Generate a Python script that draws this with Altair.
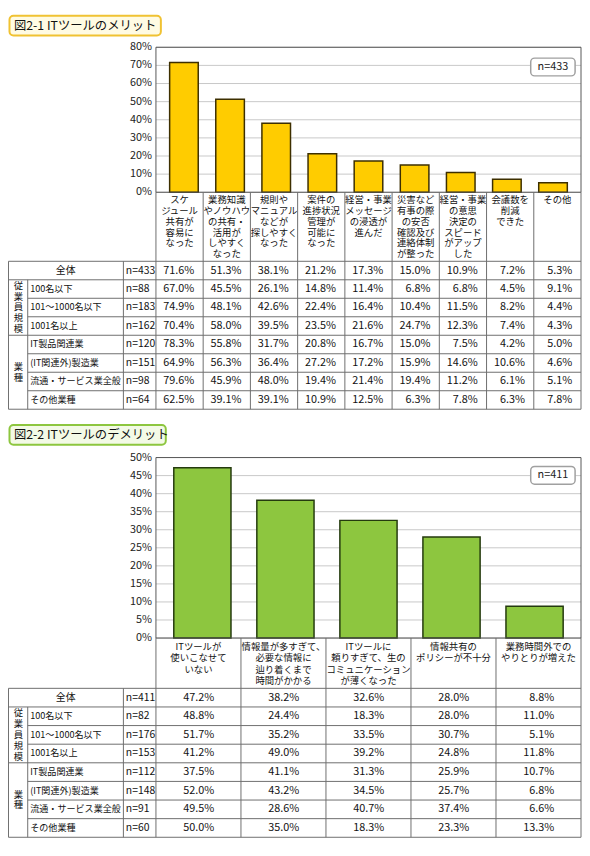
import altair as alt
import pandas as pd

FONT = "Noto Sans CJK JP"

# ---------------- data : figure 2-1 ----------------
title1 = "図2-1 ITツールのメリット"
cats1 = [
    "スケ\nジュール\n共有が\n容易に\nなった",
    "業務知識\nやノウハウ\nの共有・\n活用が\nしやすく\nなった",
    "規則や\nマニュアル\nなどが\n探しやすく\nなった",
    "案件の\n進捗状況\n管理が\n可能に\nなった",
    "経営・事業\nメッセージ\nの浸透が\n進んだ",
    "災害など\n有事の際\nの安否\n確認及び\n連絡体制\nが整った",
    "経営・事業\nの意思\n決定の\nスピード\nがアップ\nした",
    "会議数を\n削減\nできた",
    "その他",
]
total1 = [71.6, 51.3, 38.1, 21.2, 17.3, 15.0, 10.9, 7.2, 5.3]
ticks1 = [0, 10, 20, 30, 40, 50, 60, 70, 80]
n1 = [433, 88, 183, 162, 120, 151, 98, 64]
table1 = [
    [71.6, 51.3, 38.1, 21.2, 17.3, 15.0, 10.9, 7.2, 5.3],
    [67.0, 45.5, 26.1, 14.8, 11.4, 6.8, 6.8, 4.5, 9.1],
    [74.9, 48.1, 42.6, 22.4, 16.4, 10.4, 11.5, 8.2, 4.4],
    [70.4, 58.0, 39.5, 23.5, 21.6, 24.7, 12.3, 7.4, 4.3],
    [78.3, 55.8, 31.7, 20.8, 16.7, 15.0, 7.5, 4.2, 5.0],
    [64.9, 56.3, 36.4, 27.2, 17.2, 15.9, 14.6, 10.6, 4.6],
    [79.6, 45.9, 48.0, 19.4, 21.4, 19.4, 11.2, 6.1, 5.1],
    [62.5, 39.1, 39.1, 10.9, 12.5, 6.3, 7.8, 6.3, 7.8],
]

# ---------------- data : figure 2-2 ----------------
title2 = "図2-2 ITツールのデメリット"
cats2 = [
    "ITツールが\n使いこなせて\nいない",
    "情報量が多すぎて、\n必要な情報に\n辿り着くまで\n時間がかかる",
    "ITツールに\n頼りすぎて、生の\nコミュニケーション\nが薄くなった",
    "情報共有の\nポリシーが不十分",
    "業務時間外での\nやりとりが増えた",
]
total2 = [47.2, 38.2, 32.6, 28.0, 8.8]
ticks2 = [0, 5, 10, 15, 20, 25, 30, 35, 40, 45, 50]
n2 = [411, 82, 176, 153, 112, 148, 91, 60]
table2 = [
    [47.2, 38.2, 32.6, 28.0, 8.8],
    [48.8, 24.4, 18.3, 28.0, 11.0],
    [51.7, 35.2, 33.5, 30.7, 5.1],
    [41.2, 49.0, 39.2, 24.8, 11.8],
    [37.5, 41.1, 31.3, 25.9, 10.7],
    [52.0, 43.2, 34.5, 25.7, 6.8],
    [49.5, 28.6, 40.7, 37.4, 6.6],
    [50.0, 35.0, 18.3, 23.3, 13.3],
]

rows = ["全体", "100名以下", "101～1000名以下", "1001名以上",
        "IT製品関連業", "(IT関連外)製造業", "流通・サービス業全般", "その他業種"]
groups = [("従\n業\n員\n規\n模", 1, 4), ("業\n種", 4, 8)]
full_lines = [0, 1, 4, 8]
part_lines = [2, 3, 5, 6, 7]

# ---------------- layout ----------------
XL, XR = 150, 581
XG, XN = 20, 117
W, H = 582, 836
GRID = "#c8c8c8"
FRAME = "#555555"
LINE = "#6e6e6e"
CJK = 9.5
one = pd.DataFrame({"a": [0]})


def section(title, title_w, ty, title_fill, title_stroke, cats, totals, ticks,
            ymax, nvals, table, bar_fill, bar_stroke, bar_size,
            ptop, pbot, nbox_y, lab_top, lab_lh, ttop, tbot, vdx):
    n = len(cats)
    sx = alt.Scale(domain=[0, n], range=[XL, XR], nice=False, zero=False)
    sy = alt.Scale(domain=[0, ymax], range=[pbot, ptop], nice=False, zero=False)
    st = alt.Scale(domain=[0, len(rows)], range=[ttop, tbot], nice=False, zero=False)
    L = []
    # title
    L.append(alt.Chart(one).mark_rect(cornerRadius=4, fill=title_fill,
                                      stroke=title_stroke, strokeWidth=2).encode(
        x=alt.value(1.5), x2=alt.value(title_w), y=alt.value(ty), y2=alt.value(ty + 20)))
    L.append(alt.Chart(pd.DataFrame({"t": [title]})).mark_text(
        align="left", baseline="middle", font=FONT, fontSize=12.5, color="#111").encode(
        x=alt.value(6), y=alt.value(ty + 10.5), text="t:N"))
    # grid
    tdf = pd.DataFrame({"t": ticks, "lab": [f"{t}%" for t in ticks]})
    L.append(alt.Chart(tdf).mark_rule(color=GRID, strokeWidth=1).encode(
        y=alt.Y("t:Q", scale=sy, axis=None), x=alt.value(XL), x2=alt.value(XR)))
    L.append(alt.Chart(tdf).mark_text(align="right", baseline="middle", font=FONT,
                                      fontSize=11, color="#222").encode(
        y=alt.Y("t:Q", scale=sy, axis=None), x=alt.value(XL - 4), text="lab:N"))
    # bars
    bdf = pd.DataFrame({"xc": [i + 0.5 for i in range(n)], "v": totals, "lab": cats})
    L.append(alt.Chart(bdf).mark_bar(size=bar_size, fill=bar_fill, stroke=bar_stroke,
                                     strokeWidth=1.5, orient="vertical").encode(
        x=alt.X("xc:Q", scale=sx, axis=None),
        y=alt.Y("v:Q", scale=sy, axis=None), y2=alt.datum(0)))
    # plot frame
    L.append(alt.Chart(one).mark_rect(fill=None, stroke=FRAME, strokeWidth=1).encode(
        x=alt.value(XL), x2=alt.value(XR), y=alt.value(ptop), y2=alt.value(pbot)))
    # n box
    L.append(alt.Chart(one).mark_rect(cornerRadius=4, fill="white", stroke="#a0a0a0",
                                      strokeWidth=1.5).encode(
        x=alt.value(530), x2=alt.value(575), y=alt.value(nbox_y), y2=alt.value(nbox_y + 18)))
    L.append(alt.Chart(pd.DataFrame({"t": [f"n={nvals[0]}"]})).mark_text(
        align="center", baseline="middle", font=FONT, fontSize=11, color="#222").encode(
        x=alt.value(552.5), y=alt.value(nbox_y + 9), text="t:N"))
    # category labels
    L.append(alt.Chart(bdf).mark_text(align="center", baseline="top", font=FONT,
                                      fontSize=CJK, lineHeight=lab_lh, lineBreak="\n",
                                      color="#111").encode(
        x=alt.X("xc:Q", scale=sx, axis=None), y=alt.value(lab_top), text="lab:N"))
    # column boundaries below the plot
    vdf = pd.DataFrame({"b": list(range(n + 1))})
    L.append(alt.Chart(vdf).mark_rule(color=LINE, strokeWidth=1).encode(
        x=alt.X("b:Q", scale=sx, axis=None), y=alt.value(pbot), y2=alt.value(tbot)))
    # table horizontal lines
    L.append(alt.Chart(pd.DataFrame({"r": full_lines})).mark_rule(color=LINE, strokeWidth=1).encode(
        y=alt.Y("r:Q", scale=st, axis=None), x=alt.value(0.5), x2=alt.value(XR)))
    L.append(alt.Chart(pd.DataFrame({"r": part_lines})).mark_rule(color=LINE, strokeWidth=1).encode(
        y=alt.Y("r:Q", scale=st, axis=None), x=alt.value(XG), x2=alt.value(XR)))
    # table vertical lines (left part)
    seg = pd.DataFrame({"r0": [0], "r1": [len(rows)]})
    seg1 = pd.DataFrame({"r0": [1], "r1": [len(rows)]})
    for xv, d in [(0.5, seg), (XG, seg1), (XN, seg)]:
        L.append(alt.Chart(d).mark_rule(color=LINE, strokeWidth=1).encode(
            y=alt.Y("r0:Q", scale=st, axis=None), y2="r1:Q", x=alt.value(xv)))
    # row labels
    rdf = pd.DataFrame({"rc": [i + 0.5 for i in range(len(rows))], "lab": rows,
                        "n": [f"n={v}" for v in nvals]})
    L.append(alt.Chart(rdf.iloc[:1]).mark_text(align="center", baseline="middle", font=FONT,
                                               fontSize=CJK + 0.5, color="#111").encode(
        y=alt.Y("rc:Q", scale=st, axis=None), x=alt.value(XN / 2), text="lab:N"))
    L.append(alt.Chart(rdf.iloc[1:]).mark_text(align="left", baseline="middle", font=FONT,
                                               fontSize=9.2, color="#111").encode(
        y=alt.Y("rc:Q", scale=st, axis=None), x=alt.value(XG + 2.5), text="lab:N"))
    L.append(alt.Chart(rdf).mark_text(align="left", baseline="middle", font=FONT,
                                      fontSize=10.5, color="#111").encode(
        y=alt.Y("rc:Q", scale=st, axis=None), x=alt.value(XN + 2.5), text="n:N"))
    glh = 11
    for g, a, b in groups:
        k = g.count("\n") + 1
        gdf = pd.DataFrame({"gc": [(a + b) / 2], "lab": [g]})
        L.append(alt.Chart(gdf).mark_text(align="center", baseline="middle", font=FONT,
                                          fontSize=9.5, lineHeight=glh, lineBreak="\n",
                                          dy=-(k - 1) * glh / 2, color="#111").encode(
            y=alt.Y("gc:Q", scale=st, axis=None), x=alt.value(XG / 2 + 0.5), text="lab:N"))
    # values
    vals = []
    for r, rowv in enumerate(table):
        for c, v in enumerate(rowv):
            vals.append({"rc": r + 0.5, "xc": c + 0.5, "t": f"{v:.1f}%"})
    L.append(alt.Chart(pd.DataFrame(vals)).mark_text(align="right", baseline="middle", font=FONT,
                                                      fontSize=11, dx=vdx, color="#111").encode(
        x=alt.X("xc:Q", scale=sx, axis=None), y=alt.Y("rc:Q", scale=st, axis=None), text="t:N"))
    return L


layers = []
layers += section(title1, 155, 2, "#fffbe3", "#f0c232", cats1, total1, ticks1, 80, n1, table1,
                  "#ffcc00", "#3d2f00", 29, 34, 181, 45, 184, 11, 251, 401, 15)
layers += section(title2, 160, 417, "#f3fae6", "#8dc63f", cats2, total2, ticks2, 50, n2, table2,
                  "#8dc63f", "#243a0e", 58, 450, 633, 459, 637, 11.5, 684, 835, 16)

chart = alt.layer(*layers).resolve_scale(x="independent", y="independent").properties(
    width=W, height=H, padding=0, autosize=alt.AutoSizeParams(type="none"),
    background="white",
).configure_view(stroke=None)

chart.save("out.html", embed_options={"renderer": "svg", "actions": False})
